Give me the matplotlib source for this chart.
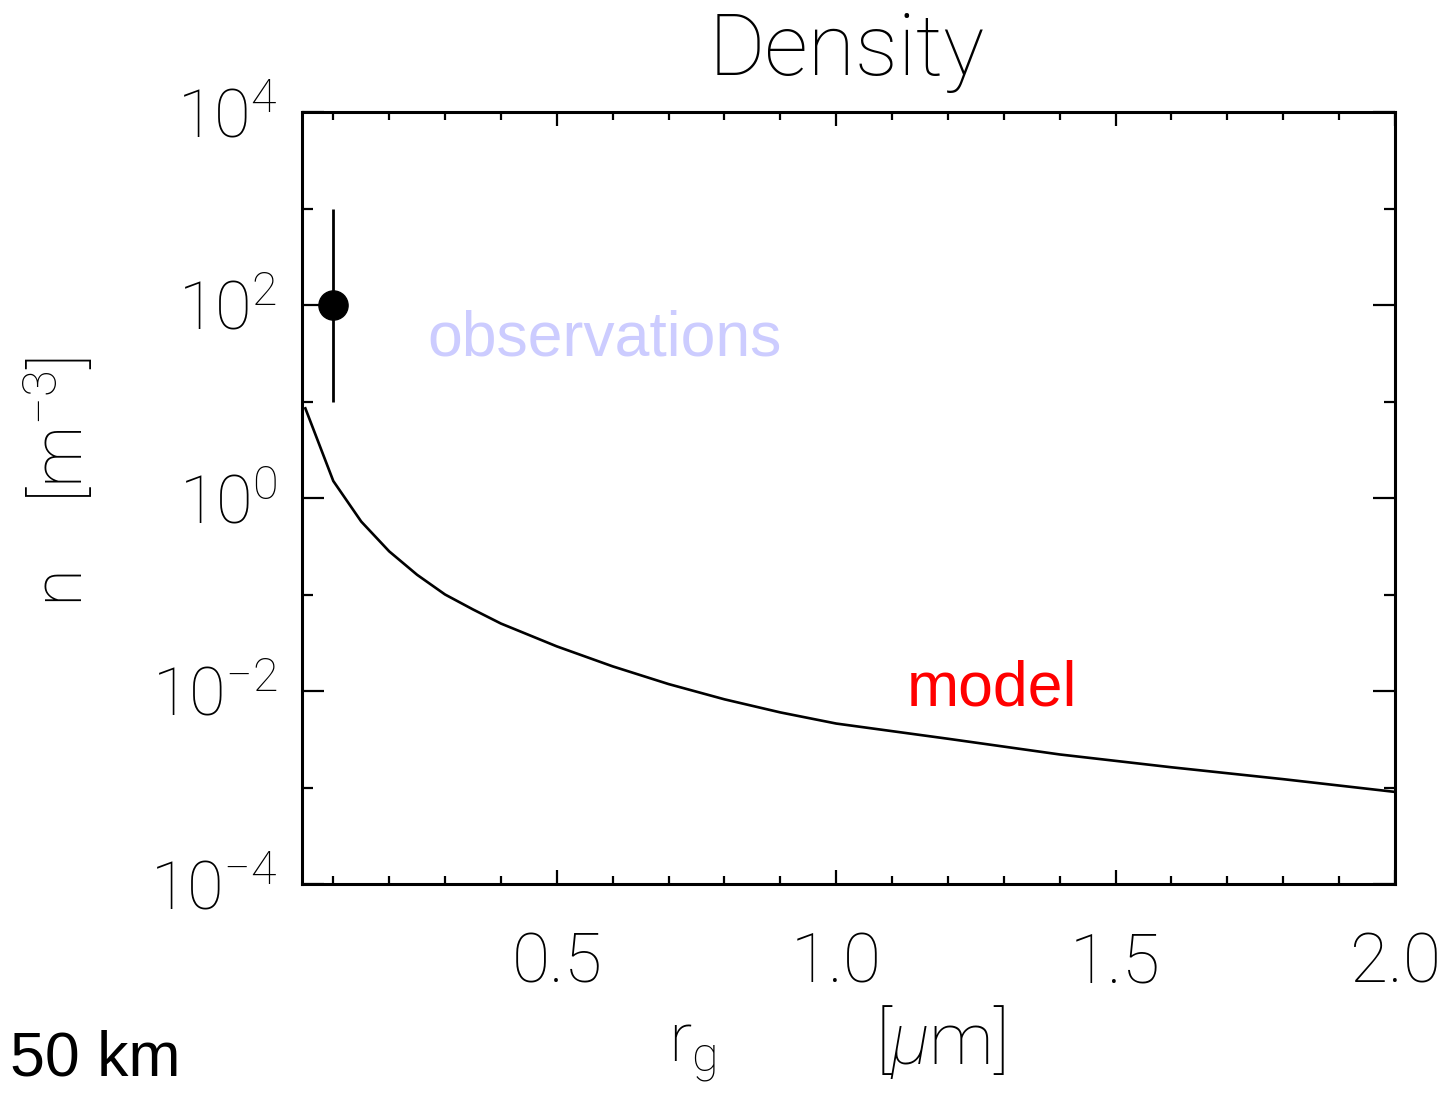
import matplotlib
matplotlib.use("Agg")
import matplotlib.pyplot as plt
from matplotlib.ticker import FixedLocator, MultipleLocator, NullFormatter

# model curve
r_model = [0.05, 0.1, 0.15, 0.2, 0.25, 0.3, 0.35, 0.4, 0.5, 0.6, 0.7,
           0.8, 0.9, 1.0, 1.2, 1.4, 1.6, 1.8, 2.0]
n_model = [8.5, 1.5, 0.57, 0.28, 0.16, 0.10, 0.070, 0.050, 0.029, 0.018,
           0.0118, 0.0082, 0.0060, 0.0046, 0.0032, 0.0022, 0.00162,
           0.00122, 0.00090]

# observation with error range
r_obs = [0.1]
n_obs = [100.0]
n_obs_lo = [10.0]
n_obs_hi = [1000.0]

y_major = [1e-4, 1e-2, 1e0, 1e2, 1e4]
y_minor = [1e-3, 1e-1, 1e1, 1e3]
y_labels = ["$10^{-4}$", "$10^{-2}$", "$10^{0}$", "$10^{2}$", "$10^{4}$"]
x_major = [0.5, 1.0, 1.5, 2.0]
x_labels = ["0.5", "1.0", "1.5", "2.0"]

plt.rcParams["font.family"] = "Roboto"
plt.rcParams["font.weight"] = "light"
plt.rcParams["mathtext.fontset"] = "custom"
plt.rcParams["mathtext.rm"] = "Roboto:light"
plt.rcParams["mathtext.it"] = "Roboto:light:italic"
plt.rcParams["mathtext.default"] = "regular"

fig = plt.figure(figsize=(14.52, 10.94), dpi=100)
ax = fig.add_axes([302 / 1452, 1 - 884 / 1094, (1395 - 302) / 1452, (884 - 112) / 1094])

ax.plot(r_model, n_model, color="black", lw=1.9)
err = [[n_obs[0] - n_obs_lo[0]], [n_obs_hi[0] - n_obs[0]]]
ax.errorbar(r_obs, n_obs, yerr=err, fmt="o", color="black", ms=21, lw=2, capsize=0)

ax.set_yscale("log")
ax.set_xlim(0.044, 2.0)
ax.set_ylim(1e-4, 1e4)

ax.yaxis.set_major_locator(FixedLocator(y_major))
ax.yaxis.set_minor_locator(FixedLocator(y_minor))
ax.yaxis.set_minor_formatter(NullFormatter())
ax.set_yticklabels(y_labels)
ax.xaxis.set_major_locator(FixedLocator(x_major))
ax.xaxis.set_minor_locator(MultipleLocator(0.1))
ax.set_xticklabels(x_labels)

for s in ax.spines.values():
    s.set_linewidth(2.2)
ax.tick_params(axis="both", which="both", direction="in", top=True, right=True, width=1.6)
ax.tick_params(axis="y", which="major", length=16, labelsize=48, pad=18, colors="black")
ax.tick_params(axis="y", which="minor", length=8)
ax.tick_params(axis="x", which="major", length=10, labelsize=50, pad=34, colors="black")
ax.tick_params(axis="x", which="minor", length=6)

fig.text(847 / 1452, 1 - 75 / 1094, "Density", fontsize=62, ha="center", va="baseline", color="black")
fig.text(60 / 1452, 1 - 482 / 1094, "n    [m$^{-3}$]", fontsize=50, rotation=90,
         ha="center", va="center", color="black")
fig.text(692 / 1452, 1 - 1062 / 1094, "r$_{g}$", fontsize=50, ha="center", va="baseline", color="black")
fig.text(940 / 1452, 1 - 1064 / 1094, "[$\\mathit{\\mu}$m]", fontsize=52, ha="center", va="baseline", color="black")

fig.text(427 / 1452, 1 - 355 / 1094, "observations", fontsize=45, family="Liberation Sans",
         weight="normal", color="#ccccff", va="baseline")
fig.text(907 / 1452, 1 - 706 / 1094, "model", fontsize=45, family="Liberation Sans",
         weight="normal", color="red", va="baseline")
fig.text(10 / 1452, 1 - 1075 / 1094, "50 km", fontsize=45, family="Liberation Sans",
         weight="normal", color="black", va="baseline")

fig.savefig("out.png", dpi=100)
